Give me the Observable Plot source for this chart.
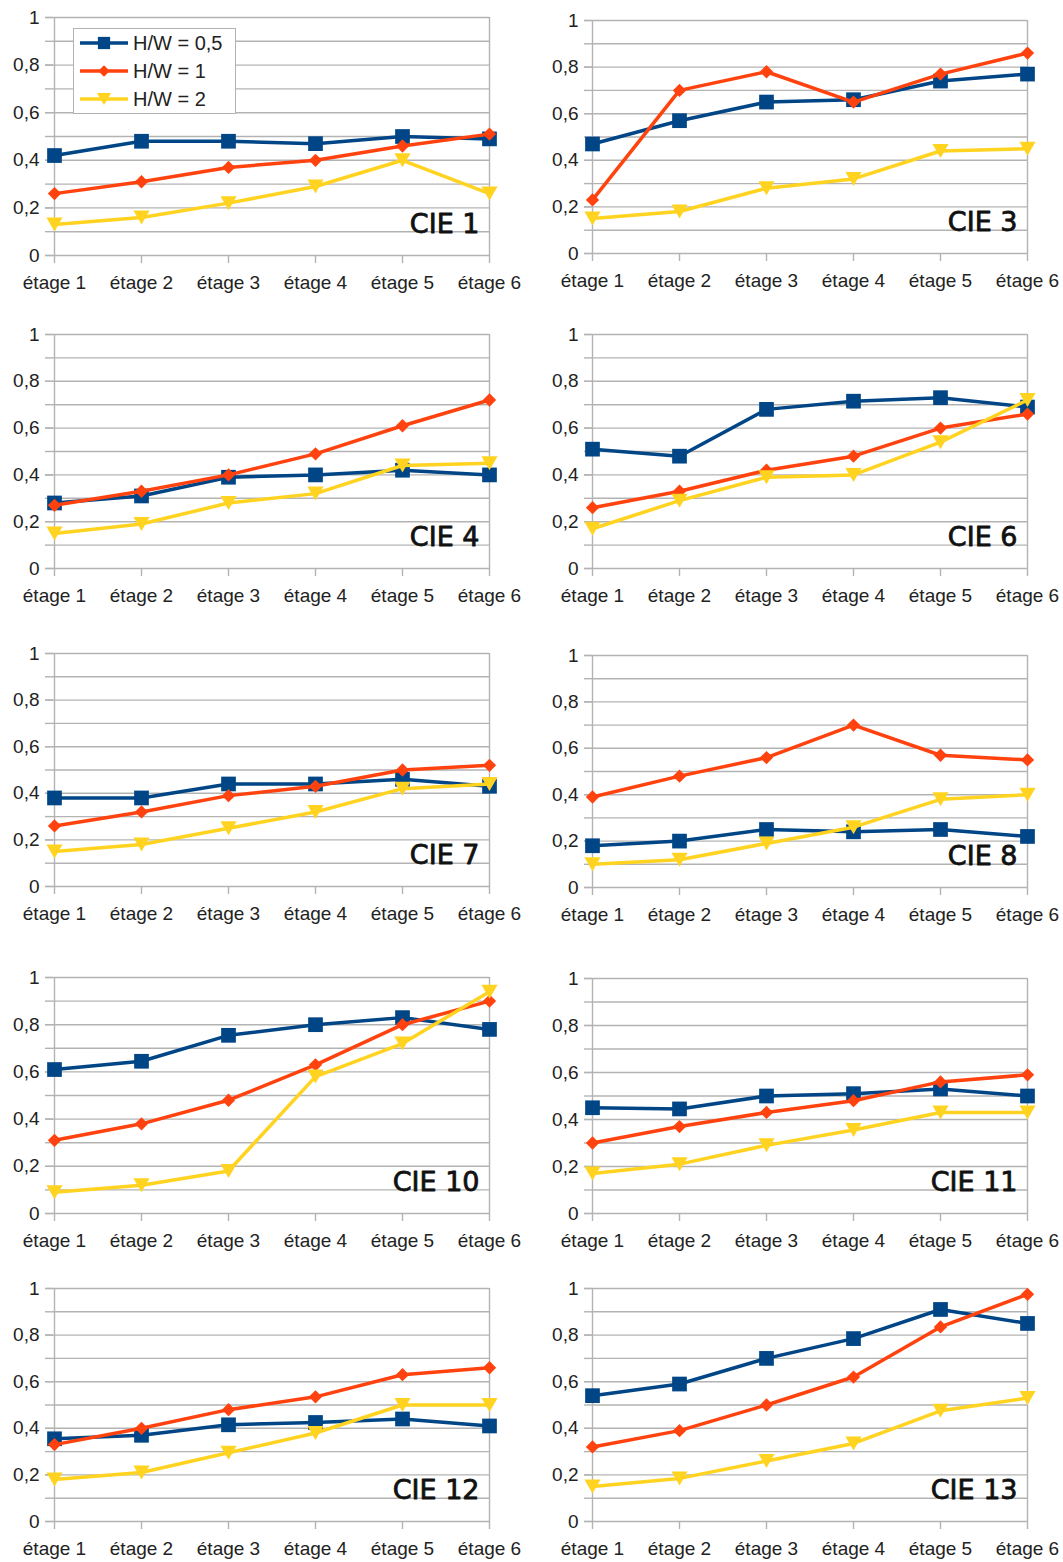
<!DOCTYPE html>
<html>
<head>
<meta charset="utf-8">
<script src="https://cdn.jsdelivr.net/npm/d3@7"></script>
<script src="https://cdn.jsdelivr.net/npm/@observablehq/plot@0.6"></script>
<style>
  html, body { margin: 0; padding: 0; background: #fff; }
  #root { position: relative; width: 1063px; height: 1562px; background: #fff; overflow: hidden; }
  .panel { position: absolute; }
  .legend { position: absolute; background: #fff; border: 1px solid #b3b3b3; box-sizing: border-box; }
</style>
</head>
<body>
<div id="root"></div>
<script>
// ---------- data ----------
const stages = ["étage 1", "étage 2", "étage 3", "étage 4", "étage 5", "étage 6"];
const panels = ["CIE 1", "CIE 3", "CIE 4", "CIE 6", "CIE 7", "CIE 8", "CIE 10", "CIE 11", "CIE 12", "CIE 13"];
const seriesNames = ["H/W = 0,5", "H/W = 1", "H/W = 2"];
const yMajorTicks = [0, 0.2, 0.4, 0.6, 0.8, 1];
const yMinorTicks = [0, 0.1, 0.2, 0.3, 0.4, 0.5, 0.6, 0.7, 0.8, 0.9, 1];

// one row per panel (same order as `panels`), one value per stage
const hw05 = [
  [0.42, 0.48, 0.48, 0.47, 0.50, 0.49],
  [0.47, 0.57, 0.65, 0.66, 0.74, 0.77],
  [0.28, 0.31, 0.39, 0.40, 0.42, 0.40],
  [0.51, 0.48, 0.68, 0.715, 0.73, 0.69],
  [0.38, 0.38, 0.44, 0.44, 0.46, 0.43],
  [0.18, 0.20, 0.25, 0.24, 0.25, 0.22],
  [0.61, 0.645, 0.755, 0.80, 0.83, 0.78],
  [0.45, 0.445, 0.50, 0.51, 0.53, 0.50],
  [0.355, 0.37, 0.415, 0.425, 0.44, 0.41],
  [0.54, 0.59, 0.70, 0.785, 0.91, 0.85]
];
const hw1 = [
  [0.26, 0.31, 0.37, 0.40, 0.46, 0.51],
  [0.23, 0.70, 0.78, 0.65, 0.77, 0.86],
  [0.27, 0.33, 0.40, 0.49, 0.61, 0.72],
  [0.26, 0.33, 0.42, 0.48, 0.60, 0.66],
  [0.26, 0.32, 0.39, 0.43, 0.50, 0.52],
  [0.39, 0.48, 0.56, 0.70, 0.57, 0.55],
  [0.31, 0.38, 0.48, 0.63, 0.80, 0.90],
  [0.30, 0.37, 0.43, 0.48, 0.56, 0.59],
  [0.33, 0.40, 0.48, 0.535, 0.63, 0.66],
  [0.32, 0.39, 0.50, 0.62, 0.835, 0.975]
];
const hw2 = [
  [0.13, 0.16, 0.22, 0.29, 0.40, 0.26],
  [0.15, 0.18, 0.28, 0.32, 0.44, 0.45],
  [0.15, 0.19, 0.28, 0.32, 0.44, 0.45],
  [0.17, 0.29, 0.39, 0.40, 0.54, 0.72],
  [0.15, 0.18, 0.25, 0.32, 0.42, 0.44],
  [0.10, 0.12, 0.19, 0.26, 0.38, 0.40],
  [0.09, 0.12, 0.18, 0.58, 0.72, 0.94],
  [0.17, 0.21, 0.29, 0.355, 0.43, 0.43],
  [0.18, 0.21, 0.295, 0.38, 0.50, 0.50],
  [0.15, 0.185, 0.26, 0.335, 0.475, 0.53]
];

// ---------- styles ----------
const seriesValues = [hw05, hw1, hw2];
const colors = ["#004586", "#ff420e", "#ffd320"];
const triangleDown = {
  draw(context, size) {
    const y = Math.sqrt(size / (3 * Math.sqrt(3)));
    const h = 1.5 * y, w = Math.sqrt(3) * y;
    context.moveTo(0, h);
    context.lineTo(-w, -h);
    context.lineTo(w, -h);
    context.closePath();
  }
};
const symbols = ["square", "diamond2", triangleDown];
const radii = [8.3, 6, 6];
const GRID = "#b3b3b3";
const fmt = d => String(d).replace(".", ",");

// layout: [left px of svg, width, marginLeft, marginRight]
const colLayout = [
  {left: 0, width: 531, ml: 53, mr: 42},
  {left: 531, width: 532, ml: 61, mr: 36}
];
// plot-area top / bottom (pixel) for each panel
const rowLayout = [
  [17, 255], [20, 253],
  [334, 568], [334, 568],
  [653, 886], [655, 887],
  [977, 1213], [978, 1213],
  [1288, 1521], [1288, 1521]
];
const MT = 17, MB = 41;

const root = document.getElementById("root");

panels.forEach((name, i) => {
  const col = colLayout[i % 2];
  const [top, bottom] = rowLayout[i];
  const data = [];
  seriesNames.forEach((s, k) => {
    stages.forEach((st, j) => data.push({series: s, k, stage: st, value: seriesValues[k][i][j]}));
  });

  const seriesMarks = seriesNames.flatMap((s, k) => {
    const d = data.filter(r => r.k === k);
    return [
      Plot.line(d, {x: "stage", y: "value", stroke: colors[k], strokeWidth: 3.5, strokeLinejoin: "round"}),
      Plot.dot(d, {x: "stage", y: "value", fill: colors[k], stroke: "none", symbol: symbols[k], r: radii[k]})
    ];
  });

  const chart = Plot.plot({
    width: col.width,
    height: (bottom - top) + MT + MB,
    marginLeft: col.ml,
    marginRight: col.mr,
    marginTop: MT,
    marginBottom: MB,
    style: {fontFamily: "'Liberation Sans', Arial, sans-serif", fontSize: "19px", color: "#222", background: "transparent", overflow: "visible"},
    x: {type: "point", domain: stages, padding: 0, label: null},
    y: {domain: [0, 1], label: null},
    marks: [
      Plot.gridY(yMinorTicks, {stroke: GRID, strokeOpacity: 1, strokeWidth: 1.4}),
      Plot.ruleX([stages[0], stages[stages.length - 1]], {stroke: GRID, strokeWidth: 1.4}),
      Plot.axisY(yMinorTicks, {tickSize: 8, tickFormat: () => "", stroke: GRID, strokeWidth: 1.4}),
      Plot.axisY(yMajorTicks, {tickSize: 8, tickPadding: 6, tickFormat: fmt, stroke: GRID, strokeWidth: 1.4, fill: "#222"}),
      Plot.axisX({tickSize: 8, tickPadding: 12, stroke: GRID, strokeWidth: 1.4, fill: "#222"}),
      ...seriesMarks,
      Plot.text([name], {
        x: () => stages[stages.length - 1], y: () => 0.1, text: d => d,
        textAnchor: "end", lineAnchor: "bottom", dx: -10, dy: 1,
        fontFamily: "'DejaVu Sans', sans-serif", fontWeight: "normal", fontSize: 27,
        fill: "#111", stroke: "#111", strokeWidth: 0.8
      })
    ]
  });
  const wrap = document.createElement("div");
  wrap.className = "panel";
  wrap.style.left = col.left + "px";
  wrap.style.top = (top - MT) + "px";
  wrap.appendChild(chart);
  root.appendChild(wrap);

  // legend in the first panel
  if (i === 0) {
    const lg = document.createElement("div");
    lg.className = "legend";
    lg.style.left = "73px";
    lg.style.top = "28px";
    lg.style.width = "163px";
    lg.style.height = "86px";
    root.appendChild(lg);
    const svg = d3.select(lg).append("svg").attr("width", 161).attr("height", 84)
      .style("position", "absolute").style("left", "0px").style("top", "0px");
    seriesNames.forEach((s, k) => {
      const cy = 14 + k * 28;
      const g = svg.append("g").attr("transform", `translate(0,${cy})`);
      g.append("line").attr("x1", 6).attr("x2", 54).attr("y1", 0).attr("y2", 0)
        .attr("stroke", colors[k]).attr("stroke-width", 3.5);
      g.append("path").attr("transform", "translate(30,0)")
        .attr("d", d3.symbol(k === 0 ? d3.symbolSquare : k === 1 ? d3.symbolDiamond2 : triangleDown, k === 0 ? 150 : 85)())
        .attr("fill", colors[k]);
      g.append("text").attr("x", 59).attr("y", 0).attr("dy", "0.36em")
        .attr("font-family", "'Liberation Sans', Arial, sans-serif").attr("font-size", 20)
        .attr("fill", "#222").text(s);
    });
  }
});
</script>
</body>
</html>
